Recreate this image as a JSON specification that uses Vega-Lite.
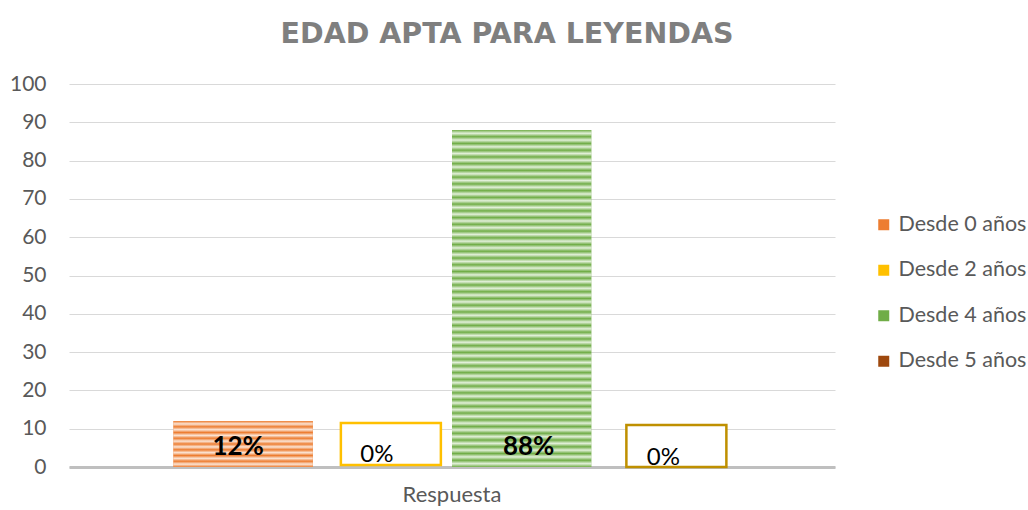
{
  "$schema": "https://vega.github.io/schema/vega-lite/v6.json",
  "width": 766,
  "height": 383,
  "autosize": {"type": "none"},
  "padding": {"left": 69, "top": 84, "right": 193, "bottom": 43},
  "background": "white",
  "title": {
    "text": "EDAD APTA PARA LEYENDAS",
    "anchor": "middle",
    "frame": "group",
    "dx": 55,
    "offset": 25,
    "font": "DejaVu Sans",
    "fontSize": 28.5,
    "fontWeight": "bold",
    "color": "#7F7F7F"
  },
  "config": {
    "view": {"stroke": null},
    "font": "Lato"
  },
  "data": {
    "values": [
      {"grupo": "Respuesta", "serie": "Desde 0 años", "valor": 12, "etiqueta": "12%"},
      {"grupo": "Respuesta", "serie": "Desde 2 años", "valor": 0, "etiqueta": "0%"},
      {"grupo": "Respuesta", "serie": "Desde 4 años", "valor": 88, "etiqueta": "88%"},
      {"grupo": "Respuesta", "serie": "Desde 5 años", "valor": 0, "etiqueta": "0%"}
    ]
  },
  "encoding": {
    "x": {
      "field": "grupo",
      "type": "nominal",
      "scale": {"paddingInner": 0, "paddingOuter": 0.1876},
      "axis": {
        "title": null,
        "labelAngle": 0,
        "labelFontSize": 22,
        "labelColor": "#595959",
        "labelPadding": 17,
        "ticks": false,
        "domain": true,
        "domainColor": "#BFBFBF",
        "domainWidth": 3,
        "grid": false
      }
    },
    "xOffset": {
      "field": "serie",
      "type": "nominal",
      "scale": {
        "domain": ["Desde 0 años", "Desde 2 años", "Desde 4 años", "Desde 5 años"],
        "paddingInner": 0,
        "paddingOuter": 0
      }
    },
    "y": {
      "field": "valor",
      "type": "quantitative",
      "scale": {"domain": [0, 100], "nice": false},
      "axis": {
        "title": null,
        "values": [0, 10, 20, 30, 40, 50, 60, 70, 80, 90, 100],
        "labelFontSize": 21,
        "labelColor": "#595959",
        "labelPadding": 23,
        "ticks": false,
        "domain": false,
        "grid": true,
        "gridColor": "#D9D9D9",
        "gridWidth": 1
      }
    }
  },
  "layer": [
    {
      "mark": {"type": "bar", "opacity": 1},
      "encoding": {
        "color": {
          "field": "serie",
          "type": "nominal",
          "scale": {
            "domain": ["Desde 0 años", "Desde 2 años", "Desde 4 años", "Desde 5 años"],
            "range": ["#ED7D31", "#FFC000", "#70AD47", "#9E480E"]
          },
          "legend": {
            "title": null,
            "orient": "none",
            "legendX": 804,
            "legendY": 130,
            "padding": 0,
            "symbolType": "square",
            "symbolSize": 121,
            "symbolStrokeWidth": 0,
            "labelFontSize": 21.5,
            "labelColor": "#595959",
            "labelOffset": 4,
            "rowPadding": 22.5
          }
        }
      }
    },
    {
      "transform": [{"filter": "datum.serie === 'Desde 0 años'"}],
      "mark": {
        "type": "bar",
        "color": {
          "gradient": "linear",
          "x1": 0, "y1": 0, "x2": 0, "y2": 1,
          "stops": [
            {"offset": 0, "color": "#ED7D31"},
            {"offset": 0.0625, "color": "#FBE5D6"},
            {"offset": 0.125, "color": "#ED7D31"},
            {"offset": 0.1875, "color": "#FBE5D6"},
            {"offset": 0.25, "color": "#ED7D31"},
            {"offset": 0.3125, "color": "#FBE5D6"},
            {"offset": 0.375, "color": "#ED7D31"},
            {"offset": 0.4375, "color": "#FBE5D6"},
            {"offset": 0.5, "color": "#ED7D31"},
            {"offset": 0.5625, "color": "#FBE5D6"},
            {"offset": 0.625, "color": "#ED7D31"},
            {"offset": 0.6875, "color": "#FBE5D6"},
            {"offset": 0.75, "color": "#ED7D31"},
            {"offset": 0.8125, "color": "#FBE5D6"},
            {"offset": 0.875, "color": "#ED7D31"},
            {"offset": 0.9375, "color": "#FBE5D6"},
            {"offset": 1, "color": "#ED7D31"}
          ]
        }
      }
    },
    {
      "transform": [{"filter": "datum.serie === 'Desde 4 años'"}],
      "mark": {
        "type": "bar",
        "color": {
          "gradient": "linear",
          "x1": 0, "y1": 0, "x2": 0, "y2": 1,
          "stops": [
            {"offset": 0, "color": "#70AD47"}, {"offset": 0.01, "color": "#E2F0D9"},
            {"offset": 0.02, "color": "#70AD47"}, {"offset": 0.03, "color": "#E2F0D9"},
            {"offset": 0.04, "color": "#70AD47"}, {"offset": 0.05, "color": "#E2F0D9"},
            {"offset": 0.06, "color": "#70AD47"}, {"offset": 0.07, "color": "#E2F0D9"},
            {"offset": 0.08, "color": "#70AD47"}, {"offset": 0.09, "color": "#E2F0D9"},
            {"offset": 0.10, "color": "#70AD47"}, {"offset": 0.11, "color": "#E2F0D9"},
            {"offset": 0.12, "color": "#70AD47"}, {"offset": 0.13, "color": "#E2F0D9"},
            {"offset": 0.14, "color": "#70AD47"}, {"offset": 0.15, "color": "#E2F0D9"},
            {"offset": 0.16, "color": "#70AD47"}, {"offset": 0.17, "color": "#E2F0D9"},
            {"offset": 0.18, "color": "#70AD47"}, {"offset": 0.19, "color": "#E2F0D9"},
            {"offset": 0.20, "color": "#70AD47"}, {"offset": 0.21, "color": "#E2F0D9"},
            {"offset": 0.22, "color": "#70AD47"}, {"offset": 0.23, "color": "#E2F0D9"},
            {"offset": 0.24, "color": "#70AD47"}, {"offset": 0.25, "color": "#E2F0D9"},
            {"offset": 0.26, "color": "#70AD47"}, {"offset": 0.27, "color": "#E2F0D9"},
            {"offset": 0.28, "color": "#70AD47"}, {"offset": 0.29, "color": "#E2F0D9"},
            {"offset": 0.30, "color": "#70AD47"}, {"offset": 0.31, "color": "#E2F0D9"},
            {"offset": 0.32, "color": "#70AD47"}, {"offset": 0.33, "color": "#E2F0D9"},
            {"offset": 0.34, "color": "#70AD47"}, {"offset": 0.35, "color": "#E2F0D9"},
            {"offset": 0.36, "color": "#70AD47"}, {"offset": 0.37, "color": "#E2F0D9"},
            {"offset": 0.38, "color": "#70AD47"}, {"offset": 0.39, "color": "#E2F0D9"},
            {"offset": 0.40, "color": "#70AD47"}, {"offset": 0.41, "color": "#E2F0D9"},
            {"offset": 0.42, "color": "#70AD47"}, {"offset": 0.43, "color": "#E2F0D9"},
            {"offset": 0.44, "color": "#70AD47"}, {"offset": 0.45, "color": "#E2F0D9"},
            {"offset": 0.46, "color": "#70AD47"}, {"offset": 0.47, "color": "#E2F0D9"},
            {"offset": 0.48, "color": "#70AD47"}, {"offset": 0.49, "color": "#E2F0D9"},
            {"offset": 0.50, "color": "#70AD47"}, {"offset": 0.51, "color": "#E2F0D9"},
            {"offset": 0.52, "color": "#70AD47"}, {"offset": 0.53, "color": "#E2F0D9"},
            {"offset": 0.54, "color": "#70AD47"}, {"offset": 0.55, "color": "#E2F0D9"},
            {"offset": 0.56, "color": "#70AD47"}, {"offset": 0.57, "color": "#E2F0D9"},
            {"offset": 0.58, "color": "#70AD47"}, {"offset": 0.59, "color": "#E2F0D9"},
            {"offset": 0.60, "color": "#70AD47"}, {"offset": 0.61, "color": "#E2F0D9"},
            {"offset": 0.62, "color": "#70AD47"}, {"offset": 0.63, "color": "#E2F0D9"},
            {"offset": 0.64, "color": "#70AD47"}, {"offset": 0.65, "color": "#E2F0D9"},
            {"offset": 0.66, "color": "#70AD47"}, {"offset": 0.67, "color": "#E2F0D9"},
            {"offset": 0.68, "color": "#70AD47"}, {"offset": 0.69, "color": "#E2F0D9"},
            {"offset": 0.70, "color": "#70AD47"}, {"offset": 0.71, "color": "#E2F0D9"},
            {"offset": 0.72, "color": "#70AD47"}, {"offset": 0.73, "color": "#E2F0D9"},
            {"offset": 0.74, "color": "#70AD47"}, {"offset": 0.75, "color": "#E2F0D9"},
            {"offset": 0.76, "color": "#70AD47"}, {"offset": 0.77, "color": "#E2F0D9"},
            {"offset": 0.78, "color": "#70AD47"}, {"offset": 0.79, "color": "#E2F0D9"},
            {"offset": 0.80, "color": "#70AD47"}, {"offset": 0.81, "color": "#E2F0D9"},
            {"offset": 0.82, "color": "#70AD47"}, {"offset": 0.83, "color": "#E2F0D9"},
            {"offset": 0.84, "color": "#70AD47"}, {"offset": 0.85, "color": "#E2F0D9"},
            {"offset": 0.86, "color": "#70AD47"}, {"offset": 0.87, "color": "#E2F0D9"},
            {"offset": 0.88, "color": "#70AD47"}, {"offset": 0.89, "color": "#E2F0D9"},
            {"offset": 0.90, "color": "#70AD47"}, {"offset": 0.91, "color": "#E2F0D9"},
            {"offset": 0.92, "color": "#70AD47"}, {"offset": 0.93, "color": "#E2F0D9"},
            {"offset": 0.94, "color": "#70AD47"}, {"offset": 0.95, "color": "#E2F0D9"},
            {"offset": 0.96, "color": "#70AD47"}, {"offset": 0.97, "color": "#E2F0D9"},
            {"offset": 0.98, "color": "#70AD47"}, {"offset": 0.99, "color": "#E2F0D9"},
            {"offset": 1, "color": "#70AD47"}
          ]
        }
      }
    },
    {
      "transform": [{"filter": "datum.serie === 'Desde 2 años'"}],
      "mark": {
        "type": "point",
        "shape": "M-0.83,-0.42H1.17V0.42H-0.83Z",
        "size": 10000,
        "filled": true,
        "fill": "white",
        "stroke": "#FFC000",
        "strokeWidth": 2.5,
        "opacity": 1,
        "yOffset": -23
      }
    },
    {
      "transform": [{"filter": "datum.serie === 'Desde 5 años'"}],
      "mark": {
        "type": "point",
        "shape": "M-0.69,-0.42H1.31V0.42H-0.69Z",
        "size": 10000,
        "filled": true,
        "fill": "white",
        "stroke": "#BF9000",
        "strokeWidth": 2.5,
        "opacity": 1,
        "yOffset": -21
      }
    },
    {
      "transform": [{"filter": "datum.serie === 'Desde 0 años'"}],
      "mark": {
        "type": "text",
        "font": "Lato",
        "fontSize": 26,
        "fontWeight": "bold",
        "color": "black",
        "baseline": "alphabetic",
        "dx": -5,
        "dy": -12
      },
      "encoding": {"y": {"datum": 0}, "text": {"field": "etiqueta"}}
    },
    {
      "transform": [{"filter": "datum.serie === 'Desde 4 años'"}],
      "mark": {
        "type": "text",
        "font": "Lato",
        "fontSize": 26,
        "fontWeight": "bold",
        "color": "black",
        "baseline": "alphabetic",
        "dx": 7,
        "dy": -12
      },
      "encoding": {"y": {"datum": 0}, "text": {"field": "etiqueta"}}
    },
    {
      "transform": [{"filter": "datum.serie === 'Desde 2 años'"}],
      "mark": {
        "type": "text",
        "font": "Lato",
        "fontSize": 24,
        "color": "black",
        "baseline": "alphabetic",
        "dx": -5.5,
        "dy": -5
      },
      "encoding": {"text": {"field": "etiqueta"}}
    },
    {
      "transform": [{"filter": "datum.serie === 'Desde 5 años'"}],
      "mark": {
        "type": "text",
        "font": "Lato",
        "fontSize": 24,
        "color": "black",
        "baseline": "alphabetic",
        "dx": 2.5,
        "dy": -2
      },
      "encoding": {"text": {"field": "etiqueta"}}
    }
  ]
}
